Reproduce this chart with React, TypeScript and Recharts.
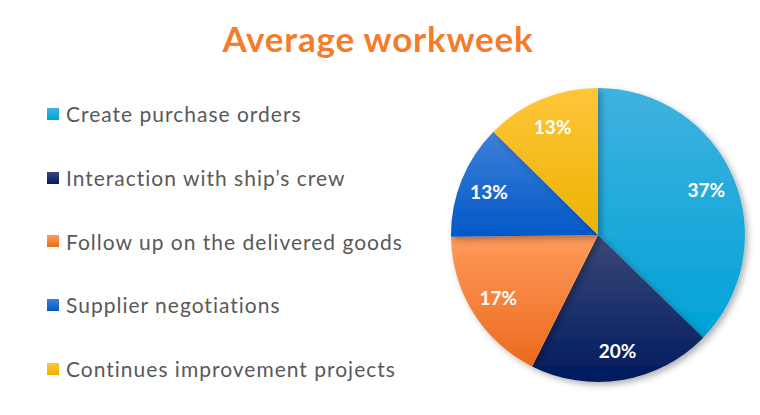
import { PieChart, Pie, Cell } from "recharts";

const tasks = [
  "Create purchase orders",
  "Interaction with ship\u2019s crew",
  "Follow up on the delivered goods",
  "Supplier negotiations",
  "Continues improvement projects",
];
const shares = [37.3, 20.1, 17.4, 12.6, 12.6];
const topColors = ["#40b2df", "#3a4878", "#ff9a5c", "#3f80d8", "#ffc63a"];
const bottomColors = ["#00a2d6", "#001b5e", "#eb6a1c", "#0058c8", "#ebb200"];

const data = tasks.map((name, i) => ({ name, value: shares[i] }));

const RAD = Math.PI / 180;

const renderLabel = (props: any) => {
  const { cx, cy, midAngle, outerRadius, value } = props;
  const r = outerRadius * 0.8;
  const x = cx + r * Math.cos(-midAngle * RAD);
  const y = cy + r * Math.sin(-midAngle * RAD);
  return (
    <text
      x={x}
      y={y}
      fill="#fff"
      textAnchor="middle"
      dominantBaseline="central"
      fontFamily="Lato"
      fontWeight={700}
      fontSize={19}
    >
      {Math.round(value)}%
    </text>
  );
};

const LegendList = () => (
  <div
    style={{
      position: "absolute",
      left: 47,
      top: 82,
      fontFamily: "Lato",
      fontSize: 21,
      letterSpacing: 1,
      color: "#595959",
    }}
  >
    {tasks.map((t, i) => (
      <div key={t} style={{ display: "flex", alignItems: "center", height: 63.7 }}>
        <span
          style={{
            width: 12,
            height: 12,
            marginRight: 7,
            background: `linear-gradient(${topColors[i]}, ${bottomColors[i]})`,
          }}
        />
        {t}
      </div>
    ))}
  </div>
);

export default function App() {
  return (
    <div style={{ position: "absolute", left: 0, top: 0, width: 760, height: 415, background: "#fff" }}>
      <PieChart width={760} height={415} margin={{ top: 0, right: 0, bottom: 0, left: 0 }}>
        <defs>
          {tasks.map((t, i) => (
            <linearGradient key={t} id={`grad${i}`} x1="0" y1="0" x2="0" y2="1">
              <stop offset="0%" stopColor={topColors[i]} />
              <stop offset="100%" stopColor={bottomColors[i]} />
            </linearGradient>
          ))}
          <filter id="shadow" x="-10%" y="-10%" width="125%" height="125%">
            <feDropShadow dx="3" dy="3" stdDeviation="3" floodColor="#000" floodOpacity="0.3" />
          </filter>
        </defs>
        <Pie
          data={data}
          dataKey="value"
          nameKey="name"
          cx={598}
          cy={235}
          outerRadius={147}
          startAngle={90}
          endAngle={-270}
          stroke="none"
          label={renderLabel}
          labelLine={false}
          isAnimationActive={false}
          style={{ filter: "url(#shadow)" }}
        >
          {data.map((d, i) => (
            <Cell key={d.name} fill={`url(#grad${i})`} />
          ))}
        </Pie>
      </PieChart>
      <div
        style={{
          position: "absolute",
          left: 0,
          width: 760,
          top: 17,
          textAlign: "center",
          fontFamily: "Lato",
          fontWeight: 700,
          fontSize: 35,
          letterSpacing: 0.8,
          color: "#f47c2c",
          paddingRight: 4,
          boxSizing: "border-box",
        }}
      >
        Average workweek
      </div>
      <LegendList />
    </div>
  );
}
